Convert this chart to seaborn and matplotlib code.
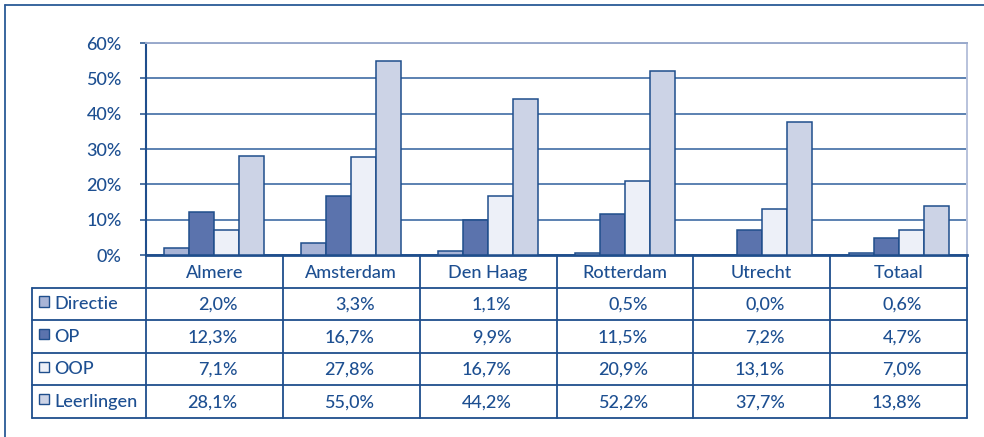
import numpy as np
import pandas as pd
import matplotlib
matplotlib.use("Agg")
import matplotlib.pyplot as plt
import seaborn as sns
from matplotlib.patches import Rectangle
from matplotlib.lines import Line2D

categories = ["Almere", "Amsterdam", "Den Haag", "Rotterdam", "Utrecht", "Totaal"]
series = ["Directie", "OP", "OOP", "Leerlingen"]
directie = [2.0, 3.3, 1.1, 0.5, 0.0, 0.6]
op = [12.3, 16.7, 9.9, 11.5, 7.2, 4.7]
oop = [7.1, 27.8, 16.7, 20.9, 13.1, 7.0]
leerlingen = [28.1, 55.0, 44.2, 52.2, 37.7, 13.8]
y_ticks = [0, 10, 20, 30, 40, 50, 60]
y_tick_labels = ["0%", "10%", "20%", "30%", "40%", "50%", "60%"]

values = {"Directie": directie, "OP": op, "OOP": oop, "Leerlingen": leerlingen}
colors = {"Directie": "#a8b4d6", "OP": "#5b73ad", "OOP": "#edf0f8", "Leerlingen": "#ccd3e6"}

rows = []
for s in series:
    for c, v in zip(categories, values[s]):
        rows.append({"cat": c, "series": s, "val": v})
df = pd.DataFrame(rows)

sns.set_theme(style="white")
plt.rcParams["font.family"] = ["Lato", "DejaVu Sans"]

DARK = "#1f4e8c"
TXT = "#1d4f91"
W, H = 984, 437
fig = plt.figure(figsize=(W / 100, H / 100), dpi=100)

# bar axes
L, R, T, B = 146, 967, 43, 255
ax = fig.add_axes([L / W, 1 - B / H, (R - L) / W, (B - T) / H])
sns.barplot(data=df, x="cat", y="val", hue="series", order=categories, hue_order=series,
            palette=colors, saturation=1, width=0.73, edgecolor=DARK, linewidth=1.1,
            legend=False, ax=ax, errorbar=None, zorder=3)
ax.set_xlim(-0.5, len(categories) - 0.5)
ax.set_ylim(0, 60)
ax.set_yticks(y_ticks)
ax.set_yticklabels(y_tick_labels)
ax.set_xticks([])
ax.set_xlabel("")
ax.set_ylabel("")
ax.yaxis.grid(True, color="#2f5f9c", linewidth=1.1)
ax.set_axisbelow(True)
ax.tick_params(axis="y", direction="out", length=4.5, width=1.1, color=DARK,
               labelcolor=TXT, labelsize=13, pad=13, left=True)
for lab in ax.get_yticklabels():
    lab.set_fontweight("medium")
ax.spines["top"].set_color("#9aaacc")
ax.spines["top"].set_linewidth(1.4)
ax.spines["right"].set_color("#b8c2dc")
ax.spines["right"].set_linewidth(1.4)
ax.spines["left"].set_color(DARK)
ax.spines["left"].set_linewidth(1.5)
ax.spines["bottom"].set_color(DARK)
ax.spines["bottom"].set_linewidth(2.0)

# table axes
TL, TB = 32, 418
leg_w = (L - TL) / ((R - L) / len(categories))
tab = fig.add_axes([TL / W, 1 - TB / H, (R - TL) / W, (TB - B) / H])
x0 = -0.5 - leg_w
tab.set_xlim(x0, len(categories) - 0.5)
tab.set_ylim(5, 0)
tab.axis("off")
lw = 1.3
# horizontal lines
for r in range(1, 6):
    tab.add_line(Line2D([x0, len(categories) - 0.5], [r, r], color=DARK, lw=lw, clip_on=False))
# vertical lines
tab.add_line(Line2D([x0, x0], [1, 5], color=DARK, lw=lw, clip_on=False))
for i in range(len(categories) + 1):
    tab.add_line(Line2D([i - 0.5, i - 0.5], [0, 5], color=DARK, lw=lw, clip_on=False))

# header
for i, c in enumerate(categories):
    tab.text(i, 0.55, c, ha="center", va="center", color=TXT, fontsize=13, fontweight="medium")

# rows
for r, s in enumerate(series, start=1):
    tab.add_patch(Rectangle((x0 + 0.05, r + 0.27), 0.072, 0.31, facecolor=colors[s],
                            edgecolor=DARK, lw=1.0, clip_on=False))
    tab.text(x0 + 0.162, r + 0.5, s, ha="left", va="center", color=TXT, fontsize=13,
             fontweight="medium")
    for i, v in enumerate(values[s]):
        tab.text(i + 0.17, r + 0.52, f"{v:.1f}%".replace(".", ","), ha="right", va="center",
                 color=TXT, fontsize=13, fontweight="medium")

# outer frame
fig.add_artist(Line2D([5 / W, 5 / W], [0, 1 - 5 / H], color="#2a5a96", lw=1.3,
                      transform=fig.transFigure))
fig.add_artist(Line2D([5 / W, 1], [1 - 5 / H, 1 - 5 / H], color="#2a5a96", lw=1.3,
                      transform=fig.transFigure))

fig.savefig("out.png", dpi=100, facecolor="white")
